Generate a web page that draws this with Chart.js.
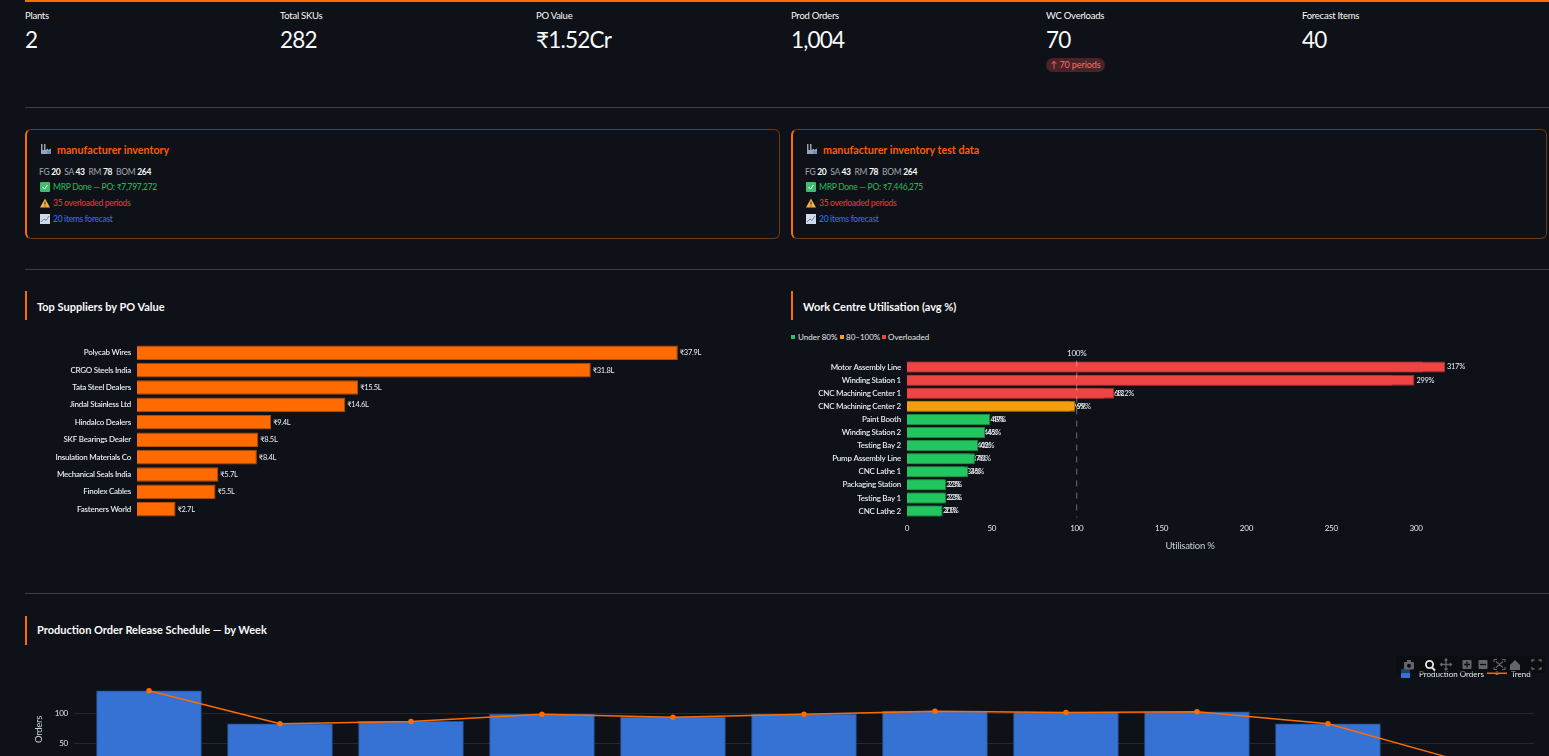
<!DOCTYPE html>
<html>
<head>
<meta charset="utf-8">
<title>Plant dashboard</title>
<script src="https://cdn.jsdelivr.net/npm/chart.js@4"></script>
<style>
  html, body { margin: 0; height: 756px; overflow: hidden; background: #0e1117; }
  body { position: relative; width: 1549px; font-family: Lato, "Noto Sans", sans-serif; color: #fafafa; }
  .t { position: absolute; white-space: nowrap; transform: translateY(-50%); }
  .hr { position: absolute; left: 25px; width: 1524px; height: 1px; background: #3b3e45; }
  .kpi-label { font-size: 9.5px; letter-spacing: -0.25px; }
  .kpi-value { font-size: 22.5px; letter-spacing: -0.8px; }
  .badge { position: absolute; left: 1046px; top: 58px; width: 59px; height: 14px; line-height: 14px; border-radius: 7px;
           background: #4b2227; color: #ff6c6c; font-size: 9px; letter-spacing: -0.1px; text-align: center; }
  .card { position: absolute; top: 129px; height: 108px; box-sizing: content-box; border: 1px solid #6e3a12; border-left: 2px solid #ff6b00; border-radius: 6px; }
  .card-title { font-size: 10.7px; font-weight: 700; color: #ff5c00; }
  .card-line { font-size: 8.5px; letter-spacing: -0.3px; font-weight: 500; }
  .card-line b { color: #fafafa; }
  .muted { color: #9a9ea5; }
  .sec-bar { position: absolute; width: 2px; height: 29px; background: #ff6b00; }
  .sec-title { font-size: 11px; font-weight: 700; }
  .legend { font-size: 8px; color: #e6e8eb; }
  .sw { position: absolute; width: 4px; height: 4px; }
  canvas { position: absolute; }
  svg { position: absolute; }
  .modebar { position: absolute; left: 1396px; top: 656px; width: 149px; height: 17px; background: rgba(9,9,12,.5); }
</style>
</head>
<body>
<div style="position:absolute;left:25px;top:0;width:1524px;height:1.5px;background:#ff6b00"></div>

<div id="kpis"></div>
<div class="badge">↑ 70 periods</div>
<div class="hr" style="top:107px"></div>

<div id="cards"></div>
<div class="hr" style="top:269px"></div>

<div class="sec-bar" style="left:25px;top:291px"></div>
<div class="t sec-title" style="left:37px;top:305.5px">Top Suppliers by PO Value</div>
<canvas id="supplierChart" width="745" height="174" style="left:25px;top:344px"></canvas>

<div class="sec-bar" style="left:791px;top:291px"></div>
<div class="t sec-title" style="left:803px;top:305.5px">Work Centre Utilisation (avg %)</div>
<div class="sw" style="left:791px;top:335px;background:#22c55e"></div>
<div class="t legend" style="left:798px;top:337px">Under 80%</div>
<div class="sw" style="left:840px;top:335px;background:#f59e0b"></div>
<div class="t legend" style="left:846px;top:337px">80–100%</div>
<div class="sw" style="left:882px;top:335px;background:#ef4444"></div>
<div class="t legend" style="left:888px;top:337px">Overloaded</div>
<canvas id="utilChart" width="683" height="218" style="left:790px;top:340px"></canvas>

<div class="hr" style="top:593px"></div>
<div class="sec-bar" style="left:25px;top:616px"></div>
<div class="t sec-title" style="left:37px;top:628.5px">Production Order Release Schedule — by Week</div>
<canvas id="scheduleChart" width="1524" height="120" style="left:25px;top:660px"></canvas>

<div style="position:absolute;left:1401px;top:669px;width:9px;height:9px;background:#3572d4"></div>
<div class="t legend" style="left:1419px;top:674px">Production Orders</div>
<div style="position:absolute;left:1487px;top:672px;width:20px;height:2px;background:#ff6b00"></div>
<div style="position:absolute;left:1495px;top:671px;width:4px;height:4px;border-radius:2px;background:#ff6b00"></div>
<div class="t legend" style="left:1511px;top:674px">Trend</div>

<div class="modebar"></div>
<svg style="left:1396px;top:656px" width="149" height="17" fill="none" stroke="#62656b" stroke-width="1.3">
  <!-- camera -->
  <rect x="8" y="6" width="10" height="7.5" rx="1" fill="#62656b" stroke="none"/><rect x="11" y="4" width="4" height="3" fill="#62656b" stroke="none"/><circle cx="13" cy="9.7" r="2" fill="#0b0c10" stroke="none"/>
  <!-- zoom -->
  <circle cx="33.5" cy="8.5" r="3.6" stroke="#e8e8e8" stroke-width="1.8"/><path d="M36 11.5l3 3" stroke="#e8e8e8" stroke-width="1.8"/>
  <!-- pan -->
  <path d="M50 3v11M44.5 8.5h11M48.5 4.5L50 3l1.5 1.5M48.5 12.5L50 14l1.5-1.5M46 7l-1.5 1.5L46 10M54 7l1.5 1.5L54 10"/>
  <!-- zoom in, zoom out -->
  <rect x="66.5" y="4" width="9" height="9" rx="1" fill="#62656b" stroke="none"/><path d="M71 5.5v6M68 8.5h6" stroke="#0b0c10"/>
  <rect x="82.5" y="4" width="9" height="9" rx="1" fill="#62656b" stroke="none"/><path d="M84 8.5h6" stroke="#0b0c10"/>
  <!-- autoscale -->
  <path d="M98 6V3.5h3M106 3.5h3V6M98 11v2.5h3M106 13.500h3V11M100 5.500l7 6M107 5.500l-7 6" stroke-width="1.100"/>
  <!-- home -->
  <path d="M114 9l5-5 5 5v5h-10z" fill="#62656b" stroke="none"/>
  <!-- fullscreen -->
  <path d="M136 6V4h2.500M142.500 4H145v2M136 11v2h2.500M142.500 13H145v-2"/>
</svg>

<script>
const kpiLabels = ['Plants', 'Total SKUs', 'PO Value', 'Prod Orders', 'WC Overloads', 'Forecast Items'];
const kpiValues = ['2', '282', '₹1.52Cr', '1,004', '70', '40'];
const kpiLeft = [25, 280, 536, 791, 1046, 1302];

const plantNames = ['manufacturer inventory', 'manufacturer inventory test data'];
const plantPO = ['₹7,797,272', '₹7,446,275'];

const suppliers = ['Polycab Wires', 'CRGO Steels India', 'Tata Steel Dealers', 'Jindal Stainless Ltd', 'Hindalco Dealers',
  'SKF Bearings Dealer', 'Insulation Materials Co', 'Mechanical Seals India', 'Finolex Cables', 'Fasteners World'];
const supplierLakhs = [37.9, 31.8, 15.5, 14.6, 9.4, 8.5, 8.4, 5.7, 5.5, 2.7];

const workCentres = ['Motor Assembly Line', 'Winding Station 1', 'CNC Machining Center 1', 'CNC Machining Center 2', 'Paint Booth',
  'Winding Station 2', 'Testing Bay 2', 'Pump Assembly Line', 'CNC Lathe 1', 'Packaging Station', 'Testing Bay 1', 'CNC Lathe 2'];
// each work centre runs in both plants, so every row holds two overlapping bars
const utilHigher = [317, 299, 122, 99, 49, 46, 42, 40, 36, 23, 23, 21];
const utilLower = [304, 286, 116, 96, 48, 44, 40, 37, 34, 22, 22, 20];

const weekIndex = [0, 1, 2, 3, 4, 5, 6, 7, 8, 9, 10];
const weekOrders = [137, 82, 86, 98, 93, 98, 103, 101, 102, 82, 21];

const tickColor = '#e4e9ef';
const fontFamily = 'Lato, "Noto Sans", sans-serif';

// header tiles
document.getElementById('kpis').innerHTML = kpiLabels.map((label, i) =>
  `<div class="t kpi-label" style="left:${kpiLeft[i]}px;top:15px">${label}</div>` +
  `<div class="t kpi-value" style="left:${kpiLeft[i]}px;top:39px">${kpiValues[i]}</div>`).join('');

// small stand-ins for the status icons
const iconFactory = '<svg style="left:0;top:-6px" width="12" height="12"><path d="M1 11V1h1.500v6H4V1h1.500v6L8 5.500V7l3-1.500V11z" fill="#9aa3b2"/><rect x="7" y="8" width="4" height="3" fill="#6f8fc4"/></svg>';
const iconCheck = '<svg style="left:0;top:-5px" width="10" height="10"><rect width="10" height="10" rx="1" fill="#3fbf6b"/><path d="M2.500 5l2 2 3-4" stroke="#fff" fill="none"/></svg>';
const iconWarn = '<svg style="left:0;top:-5px" width="10" height="10"><path d="M5 .5L10 9.500H0z" fill="#f4b04a"/><path d="M5 3.500v3M5 7.500v1" stroke="#3a2a10"/></svg>';
const iconTrend = '<svg style="left:0;top:-5px" width="10" height="10"><rect width="10" height="10" fill="#d5d9e6"/><path d="M1 8l3-3 2 1.500L9 2" stroke="#5b84d6" fill="none"/></svg>';

document.getElementById('cards').innerHTML = plantNames.map((name, i) => {
  const x = i === 0 ? 25 : 791;
  const w = i === 0 ? 752 : 753;
  const line = (top, icon, color, html) =>
    `<div style="position:absolute;left:${x + 15}px;top:${top}px">${icon}</div>` +
    `<div class="t card-line" style="left:${x + 28}px;top:${top}px;color:${color}">${html}</div>`;
  return `<div class="card" style="left:${x}px;width:${w}px"></div>` +
    `<div style="position:absolute;left:${x + 15}px;top:149px">${iconFactory}</div>` +
    `<div class="t card-title" style="left:${x + 32}px;top:148.5px">${name}</div>` +
    `<div class="t card-line" style="left:${x + 14}px;top:172px"><span class="muted">FG</span> <b>20</b>&nbsp; <span class="muted">SA</span> <b>43</b>&nbsp; <span class="muted">RM</span> <b>78</b>&nbsp; <span class="muted">BOM</span> <b>264</b></div>` +
    line(187, iconCheck, '#1fb457', `MRP Done — PO: ${plantPO[i]}`) +
    line(203, iconWarn, '#e8323a', '35 overloaded periods') +
    line(219, iconTrend, '#2f6bf0', '20 items forecast');
}).join('');

// tightens all canvas text a little
const tightText = {
  id: 'tightText',
  beforeDraw(chart) {
    chart.ctx.letterSpacing = '-0.25px';
  }
};

// writes each bar's value just past its end, right after that dataset is painted
const valueLabels = {
  id: 'valueLabels',
  afterDatasetDraw(chart, args) {
    const ds = chart.data.datasets[args.index];
    if (!ds.valueText) return;
    const ctx = chart.ctx;
    ctx.save();
    ctx.font = '7.5px ' + fontFamily;
    ctx.letterSpacing = '-0.3px';
    ctx.fillStyle = '#eceff3';
    ctx.textBaseline = 'middle';
    args.meta.data.forEach((bar, i) => {
      ctx.fillText(ds.valueText(ds.data[i]), bar.x + 2, bar.y);
    });
    ctx.restore();
  }
};

// dashed 100% capacity marker
const capacityLine = {
  id: 'capacityLine',
  afterDatasetsDraw(chart) {
    const ctx = chart.ctx;
    const x = chart.scales.x.getPixelForValue(100);
    const area = chart.chartArea;
    ctx.save();
    ctx.strokeStyle = 'rgba(255,255,255,0.4)';
    ctx.setLineDash([6, 6]);
    ctx.beginPath();
    ctx.moveTo(x, area.top);
    ctx.lineTo(x, area.bottom);
    ctx.stroke();
    ctx.setLineDash([]);
    ctx.font = '8px ' + fontFamily;
    ctx.fillStyle = '#e6e8eb';
    ctx.textAlign = 'center';
    ctx.textBaseline = 'middle';
    ctx.fillText('100%', x, area.top - 7.5);
    ctx.restore();
  }
};

// the category axis should not reserve room above and below its bands
const noAxisPadding = s => { s.paddingTop = 0; s.paddingBottom = 0; };

Chart.defaults.animation = false;
Chart.defaults.responsive = false;
Chart.defaults.font.family = fontFamily;

new Chart(document.getElementById('supplierChart'), {
  type: 'bar',
  data: {
    labels: suppliers,
    datasets: [{
      data: supplierLakhs,
      backgroundColor: '#ff6b00',
      borderColor: '#b34f0a',
      borderWidth: 1,
      categoryPercentage: 1,
      barPercentage: 0.84,
      valueText: v => '₹' + v.toFixed(1) + 'L'
    }]
  },
  plugins: [tightText, valueLabels],
  options: {
    indexAxis: 'y',
    plugins: { legend: { display: false }, tooltip: { enabled: false } },
    scales: {
      x: { display: false, min: 0, max: 44.36 },
      y: {
        afterFit: s => { s.width = 112; noAxisPadding(s); },
        grid: { display: false, drawTicks: false },
        border: { display: false },
        ticks: { color: tickColor, font: { size: 8, weight: '600' }, padding: 6, autoSkip: false }
      }
    }
  }
});

const utilColor = v => v < 80 ? '#22c55e' : v <= 100 ? '#f59e0b' : '#ef4444';
const utilEdge = v => v < 80 ? '#178a41' : v <= 100 ? '#ab6f08' : '#a73030';
const utilText = v => v + '%';

new Chart(document.getElementById('utilChart'), {
  type: 'bar',
  data: {
    labels: workCentres,
    datasets: [
      {
        data: utilHigher,
        backgroundColor: utilHigher.map(utilColor),
        borderColor: utilHigher.map(utilEdge),
        borderWidth: 1,
        grouped: false,
        order: 0,
        categoryPercentage: 1,
        barPercentage: 0.84,
        valueText: utilText
      },
      {
        data: utilLower,
        backgroundColor: utilLower.map(utilColor),
        borderColor: utilLower.map(utilEdge),
        borderWidth: 1,
        grouped: false,
        order: 1,
        categoryPercentage: 1,
        barPercentage: 0.84,
        valueText: utilText
      }
    ]
  },
  plugins: [tightText, valueLabels, capacityLine],
  options: {
    indexAxis: 'y',
    layout: { padding: { top: 20.5 } },
    plugins: { legend: { display: false }, tooltip: { enabled: false } },
    scales: {
      x: {
        min: 0,
        max: 333.5,
        afterFit: s => { s.height = 40.4; },
        grid: { display: false, drawTicks: false },
        border: { display: false },
        ticks: { stepSize: 50, includeBounds: false, color: tickColor, font: { size: 8 }, padding: 6, maxRotation: 0 },
        title: { display: true, text: 'Utilisation %', color: '#c9ced6', font: { size: 9.5 }, padding: { top: 0, bottom: 6 } }
      },
      y: {
        afterFit: s => { s.width = 117; noAxisPadding(s); },
        grid: { display: false, drawTicks: false },
        border: { display: false },
        ticks: { color: tickColor, font: { size: 8, weight: '600' }, padding: 6, autoSkip: false }
      }
    }
  }
});

new Chart(document.getElementById('scheduleChart'), {
  type: 'bar',
  data: {
    datasets: [
      {
        type: 'line',
        data: weekIndex.map((w, i) => ({ x: w, y: weekOrders[i] })),
        borderColor: '#ff6b00',
        backgroundColor: '#ff6b00',
        borderWidth: 1.5,
        pointRadius: 2,
        tension: 0,
        order: 0
      },
      {
        data: weekIndex.map((w, i) => ({ x: w, y: weekOrders[i] })),
        backgroundColor: '#3572d4',
        borderColor: '#26508f',
        borderWidth: 1,
        barThickness: 105,
        order: 1
      }
    ]
  },
  plugins: [tightText],
  options: {
    layout: { padding: { top: 26, right: 15, bottom: 7 } },
    plugins: { legend: { display: false }, tooltip: { enabled: false } },
    scales: {
      x: { type: 'linear', offset: false, display: false, min: -0.5725, max: 10.573 },
      y: {
        min: 0,
        max: 145,
        afterFit: s => { s.width = 49; noAxisPadding(s); },
        grid: { color: '#25282f', drawTicks: false },
        border: { display: false },
        ticks: { stepSize: 50, includeBounds: false, color: tickColor, font: { size: 8 }, padding: 6 },
        title: { display: true, text: 'Orders', color: '#c9ced6', font: { size: 9.5 }, padding: { top: 8, bottom: 0 } }
      }
    }
  }
});
</script>
</body>
</html>
